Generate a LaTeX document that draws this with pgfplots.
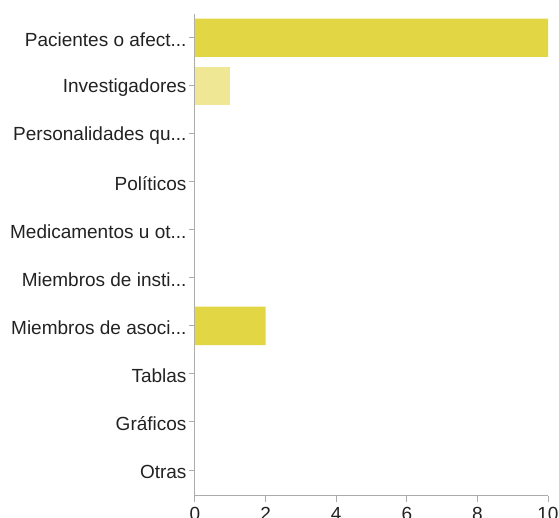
\documentclass[border=0pt]{standalone}
\usepackage{pgfplots}
\pgfplotsset{compat=1.18}
\usepackage{fontspec}
\setmainfont{Liberation Sans}
\definecolor{barA}{HTML}{E3D645}
\definecolor{barB}{HTML}{EFE794}
\definecolor{axgray}{HTML}{ABABAB}
\definecolor{txt}{HTML}{222222}
\newcommand{\dd}{.{}.{}.}
\begin{document}
\begin{tikzpicture}
\begin{axis}[
    name=ax,
    scale only axis,
    width=353bp, height=482bp,
    xbar, bar width=0.8, bar shift=0pt,
    xmin=0, xmax=10,
    ymin=-0.535, ymax=9.5,
    axis x line*=bottom, axis y line*=left,
    axis line style={axgray, line width=1bp},
    every tick/.style={axgray, line width=1bp},
    xtick pos=bottom, ytick pos=left,
    tick align=outside, major tick length=6bp,
    xtick={0,2,...,10}, ytick={0,...,9},
    yticklabels={{Otras}, {Gráficos}, {Tablas}, {Miembros de asoci\dd}, {Miembros de insti\dd},
      {Medicamentos u ot\dd}, {Políticos}, {Personalidades qu\dd}, {Investigadores}, {Pacientes o afect\dd}},
    ticklabel style={font=\fontsize{19bp}{22bp}\selectfont, text=txt},
    yticklabel style={xshift=1bp, yshift=-2bp},
    xticklabel style={yshift=-2bp},
    /pgf/number format/assume math mode=true,
]
\addplot[fill=barA, draw=none] coordinates {(10,9) (2,3)};
\addplot[fill=barB, draw=none] coordinates {(1,8)};
\end{axis}
\pgfresetboundingbox
\path[use as bounding box] (ax.south west) ++(-195bp,-22.3bp) rectangle ++(559bp,518bp);
\end{tikzpicture}
\end{document}
